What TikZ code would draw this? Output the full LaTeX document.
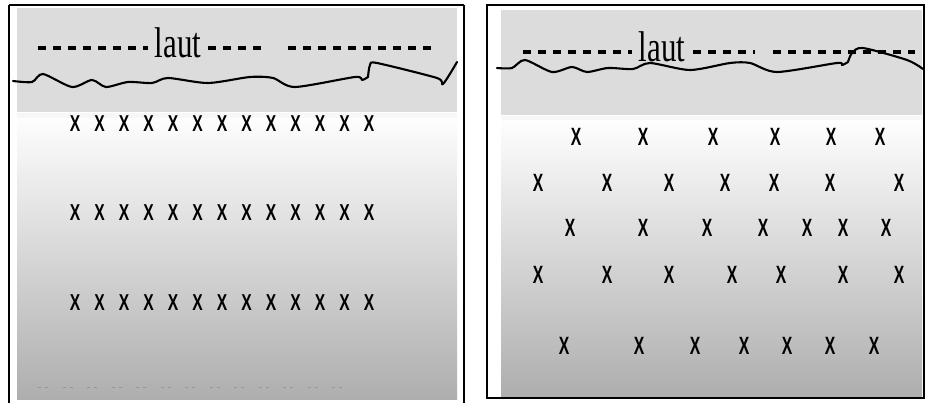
\documentclass[tikz,border=0pt]{standalone}
\usepackage{fontspec}
\setmainfont{Liberation Serif}
\newfontfamily\xfont{Liberation Sans}
\definecolor{bandgrey}{RGB}{220,220,220}
\definecolor{midgrey}{RGB}{214,214,214}
\definecolor{botgrey}{RGB}{174,174,174}
\definecolor{dotgrey}{RGB}{150,150,150}
\begin{document}
\begin{tikzpicture}[x=1pt,y=-1pt,
  framebox/.style={draw=black,line width=1.6pt},
  wave/.style={draw=black,line width=2.1pt,line join=round,line cap=round},
  dashline/.style={draw=black,line width=3.6pt,dash pattern=on 8pt off 7pt},
  lautlabel/.style={inner sep=0pt,anchor=base,xscale=0.72,font=\fontsize{43}{43}\selectfont},
  xmark/.style={inner sep=0pt,anchor=center,xscale=0.68,font=\xfont\bfseries\fontsize{23}{23}\selectfont},
  xmarkr/.style={inner sep=0pt,anchor=center,xscale=0.63,font=\xfont\bfseries\fontsize{25}{25}\selectfont},
  faint/.style={draw=dotgrey,line width=1pt}]
\useasboundingbox (0,0) rectangle (926,403);
\fill[white] (0,0) rectangle (926,403);

% ---------- left panel ----------
\fill[bandgrey] (17,8) rectangle (457,113);
\shade[top color=white,middle color=midgrey,bottom color=botgrey] (17,113) rectangle (457,399);
\fill[white!97!black] (17,113) rectangle (457,118);
\draw[framebox] (9,5) -- (464,5);
\draw[framebox] (9,5) -- (9,410);
\draw[framebox] (464,5) -- (464,410);

\draw[dashline] (38,48) -- (148,48);
\draw[dashline] (208,48) -- (265,48);
\draw[dashline] (288,48) -- (432,48);
\node[lautlabel] (lautL) at (178,58) {laut};

\draw[wave] plot[smooth,tension=0.45] coordinates {(13,81) (32,82) (43,74) (72,87) (92,80) (106,87) (128,82) (152,83) (168,78) (208,83) (250,77) (273,78) (295,87) (355,77) (362,80) (368,77)};
\draw[wave] plot[smooth,tension=0.45] coordinates {(368,77) (370,65) (377,63) (437,78) (443,84) (457,62)};

\foreach \r/\yy in {1/124,2/213,3/303}{
  \foreach \c in {0,...,12}{
    \node[xmark] (L\r-\c) at ({75+24.5*\c},\yy) {X};
  }
}
\foreach \c in {0,...,12}{
  \draw[faint] ({38+24.5*\c},387) -- ({41+24.5*\c},387);
  \draw[faint] ({45+24.5*\c},387) -- ({48+24.5*\c},387);
}

% ---------- right panel ----------
\fill[bandgrey] (501,10) rectangle (922,116);
\shade[top color=white,middle color=midgrey,bottom color=botgrey] (501,116) rectangle (922,396);
\fill[white!97!black] (501,116) rectangle (922,120);
\draw[framebox] (487,5) rectangle (924,398);

\draw[dashline] (523,52) -- (632,52);
\draw[dashline] (693,52) -- (755,52);
\draw[dashline] (773,52) -- (915,52);
\node[lautlabel] (lautR) at (662,62) {laut};

\draw[wave] plot[smooth,tension=0.45] coordinates {(497,68) (512,68) (525,60) (552,72) (572,67) (587,72) (608,68) (633,69) (650,63) (690,70) (730,63) (750,63) (777,72) (837,63) (842,65) (848,62)};
\draw[wave] plot[smooth,tension=0.45] coordinates {(848,62) (852,53) (863,48) (907,60) (923,69)};

\foreach \i/\xx in {1/576,2/643,3/713,4/775,5/831,6/880}{\node[xmarkr] (R1-\i) at (\xx,137) {X};}
\foreach \i/\xx in {1/538,2/607,3/669,4/725,5/774,6/830,7/899}{\node[xmarkr] (R2-\i) at (\xx,183) {X};}
\foreach \i/\xx in {1/570,2/643,3/707,4/763,5/807,6/843,7/886}{\node[xmarkr] (R3-\i) at (\xx,228) {X};}
\foreach \i/\xx in {1/538,2/607,3/669,4/732,5/781,6/843,7/899}{\node[xmarkr] (R4-\i) at (\xx,275) {X};}
\foreach \i/\xx in {1/564,2/639,3/695,4/744,5/787,6/830,7/874}{\node[xmarkr] (R5-\i) at (\xx,346) {X};}
\end{tikzpicture}
\end{document}
